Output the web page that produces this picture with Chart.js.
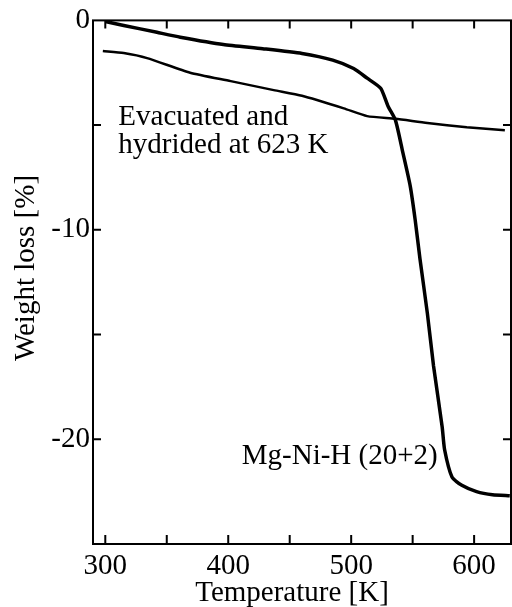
<!DOCTYPE html>
<html>
<head>
<meta charset="utf-8">
<script src="https://cdn.jsdelivr.net/npm/chart.js@4/dist/chart.umd.min.js"></script>
<style>
  html, body { margin: 0; padding: 0; background: #fff; }
  #wrap { width: 512px; height: 607px; }
</style>
</head>
<body>
<div id="wrap"><canvas id="tgChart" width="512" height="607"></canvas></div>
<script>
// Mg-Ni-H (20+2) curve
const tempMgNi = [300, 315, 342, 361, 396, 428, 460, 485, 502, 513, 524, 530, 536, 542, 548, 552, 556, 562, 567, 574, 576, 582, 590, 602, 615, 629];
const lossMgNi = [-0.05, -0.24, -0.57, -0.8, -1.15, -1.35, -1.58, -1.9, -2.3, -2.76, -3.24, -4.1, -4.76, -6.3, -7.9, -9.5, -11.4, -14.0, -16.5, -19.4, -20.5, -21.8, -22.2, -22.5, -22.65, -22.7];

// evacuated and hydrided at 623 K
const tempEvac = [298, 315, 334, 369, 402, 437, 460, 494, 513, 536, 562, 594, 625];
const lossEvac = [-1.46, -1.56, -1.8, -2.5, -2.9, -3.33, -3.6, -4.2, -4.57, -4.7, -4.9, -5.1, -5.24];

const xLabels = [300, 400, 500, 600];
const yLabels = [0, -10, -20];

const FONT = "'Liberation Serif', 'Times New Roman', serif";
const FONT_SIZE = 29;

function toPoints(xs, ys){
  let pts = [];
  for(let i = 0; i < xs.length; i++){
    pts.push({x: xs[i], y: ys[i]});
  }
  return pts;
}

// inward ticks on all four sides, the frame, axis titles and the curve labels
const framePlugin = {
  id: 'frame',
  afterDraw(chart){
    const ctx = chart.ctx;
    const a = chart.chartArea;
    const xs = chart.scales.x;
    const ys = chart.scales.y;
    ctx.save();
    ctx.strokeStyle = '#000';
    ctx.lineWidth = 2;
    ctx.strokeRect(a.left, a.top, a.right - a.left, a.bottom - a.top);
    ctx.beginPath();
    for(let t = 300; t <= 600; t += 50){
      const px = xs.getPixelForValue(t);
      ctx.moveTo(px, a.bottom); ctx.lineTo(px, a.bottom - 9);
      ctx.moveTo(px, a.top); ctx.lineTo(px, a.top + 8);
    }
    for(let v = -5; v >= -20; v -= 5){
      const py = ys.getPixelForValue(v);
      ctx.moveTo(a.left, py); ctx.lineTo(a.left + 8, py);
      ctx.moveTo(a.right, py); ctx.lineTo(a.right - 8, py);
    }
    ctx.stroke();

    ctx.fillStyle = '#000';
    ctx.font = FONT_SIZE + 'px ' + FONT;
    ctx.textAlign = 'left';
    ctx.textBaseline = 'alphabetic';
    ctx.fillText('Evacuated and', xs.getPixelForValue(310.6), ys.getPixelForValue(-5.0));
    ctx.fillText('hydrided at 623 K', xs.getPixelForValue(310.6), ys.getPixelForValue(-6.33));
    ctx.fillText('Mg-Ni-H (20+2)', xs.getPixelForValue(411), ys.getPixelForValue(-21.2));

    // axis titles
    ctx.textAlign = 'center';
    ctx.fillText('Temperature [K]', 292, 601);
    ctx.translate(34, 268);
    ctx.rotate(-Math.PI / 2);
    ctx.fillText('Weight loss [%]', 0, 0);
    ctx.restore();
  }
};

const chartConfig = {
  type: 'line',
  data: {
    datasets: [{
      label: 'Mg-Ni-H (20+2)',
      data: toPoints(tempMgNi, lossMgNi),
      borderColor: '#000',
      borderWidth: 3.5,
      pointRadius: 0,
      tension: 0.2,
      fill: false
    }, {
      label: 'Evacuated and hydrided at 623 K',
      data: toPoints(tempEvac, lossEvac),
      borderColor: '#000',
      borderWidth: 2.5,
      pointRadius: 0,
      tension: 0.2,
      fill: false
    }]
  },
  options: {
    responsive: false,
    animation: false,
    layout: { padding: { top: 20, right: 1, left: 0, bottom: 0 } },
    plugins: {
      legend: { display: false },
      tooltip: { enabled: false }
    },
    scales: {
      x: {
        type: 'linear',
        min: 290,
        max: 630,
        afterFit: function(scale){ scale.height = 63; },
        afterBuildTicks: function(scale){
          scale.ticks = xLabels.map(v => ({value: v}));
        },
        grid: { display: false, drawTicks: false },
        border: { display: false },
        ticks: {
          color: '#000',
          padding: 5,
          maxRotation: 0,
          font: { family: FONT, size: FONT_SIZE }
        }
      },
      y: {
        min: -25,
        max: 0,
        afterFit: function(scale){ scale.width = 93; },
        afterBuildTicks: function(scale){
          scale.ticks = yLabels.map(v => ({value: v}));
        },
        grid: { display: false, drawTicks: false },
        border: { display: false },
        ticks: {
          color: '#000',
          padding: 3,
          font: { family: FONT, size: FONT_SIZE }
        }
      }
    }
  },
  plugins: [framePlugin]
};

window.onload = function(){
  new Chart(document.getElementById('tgChart'), chartConfig);
};
</script>
</body>
</html>
